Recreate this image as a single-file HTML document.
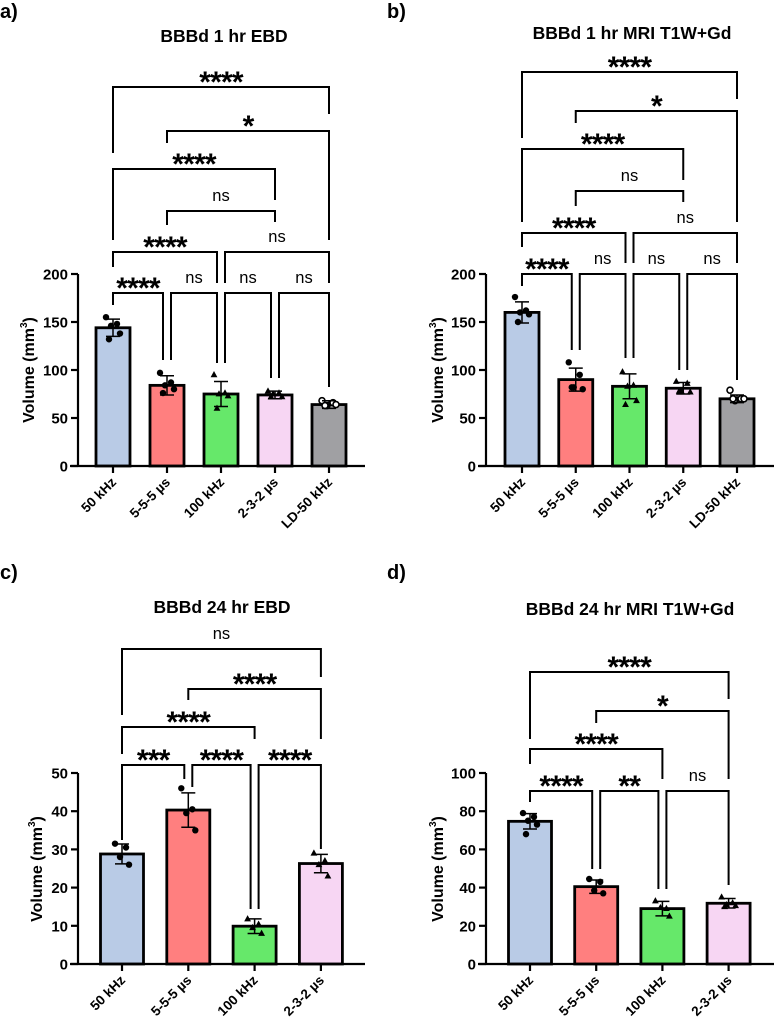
<!DOCTYPE html>
<html><head><meta charset="utf-8"><style>
html,body{margin:0;padding:0;background:#fff;}
svg{display:block;font-family:"Liberation Sans",Arial,sans-serif;}
</style></head><body>
<svg id="fig" width="774" height="1024" viewBox="0 0 774 1024" xmlns="http://www.w3.org/2000/svg"></svg>
<script>
// ---------- DATA ----------
const catsA = ["50 kHz","5-5-5 µs","100 kHz","2-3-2 µs","LD-50 kHz"];
const catsC = ["50 kHz","5-5-5 µs","100 kHz","2-3-2 µs"];
const colors = ["#b9cbe6","#ff7f7f","#66e86a","#f7d6f3","#a0a0a3"];
const markers = ["dot","dot","tri","tri","open"];

const meansA = [144, 84, 75, 74, 64];
const sdA = [9, 10, 13, 4, 4];
const ptsA = [[155,148,146,138,132],[97,87,84,80,76],[95,76,75,73,60],[78,76,75,72,72],[68,66,63,64,63]];
const compsA = [[0,1,"****"],[1,2,"ns"],[2,3,"ns"],[3,4,"ns"],[0,2,"****"],[2,4,"ns"],[1,3,"ns"],[0,3,"****"],[1,4,"*"],[0,4,"****"]];

const meansB = [160, 90, 83, 81, 70];
const sdB = [11, 12, 13, 6, 4];
const ptsB = [[176,162,160,158,150],[108,95,82,80,82],[98,84,83,68,64],[88,86,78,77,78],[79,70,68,70,70]];
const compsB = [[0,1,"****"],[1,2,"ns"],[2,3,"ns"],[3,4,"ns"],[0,2,"****"],[2,4,"ns"],[1,3,"ns"],[0,3,"****"],[1,4,"*"],[0,4,"****"]];

const meansC = [28.8, 40.3, 9.9, 26.3];
const sdC = [2.6, 4.5, 1.9, 2.4];
const ptsC = [[31.5,30.5,28,26],[46,40.5,39.5,35],[11.8,10.4,9.5,8],[29,27,26,23]];
const compsC = [[0,1,"***"],[1,2,"****"],[2,3,"****"],[0,2,"****"],[1,3,"****"],[0,3,"ns"]];

const meansD = [74.7, 40.5, 29, 31.8];
const sdD = [4, 3.5, 3.8, 2.5];
const ptsD = [[79,77,75,73,68],[44.5,43,38.5,37],[33,29,29.5,25],[35,32,31,30.5,30]];
const compsD = [[0,1,"****"],[1,2,"**"],[2,3,"ns"],[0,2,"****"],[1,3,"*"],[0,3,"****"]];

const ticksA = [0,50,100,150,200];
const ticksC = [0,10,20,30,40,50];
const ticksD = [0,20,40,60,80,100];

// ---------- LAYOUT ----------
const NS="http://www.w3.org/2000/svg";
const svg=document.getElementById("fig");
function el(tag,attrs,parent){const e=document.createElementNS(NS,tag);for(const k in attrs)e.setAttribute(k,attrs[k]);(parent||svg).appendChild(e);return e;}
const jit=[-7,4,-2,7,-4];

// bracket layout: [level, leftBottom, rightBottom] px per comparison
const layA=[[293,305,360],[293,360,363],[293,363,378],[293,378,387],[252,267,283],[252,283,283],[211,225,222],[169,240,200],[131,143,240],[87,153,114]];
const layB=[[274,286,350],[274,350,358],[274,358,370],[274,370,380],[233,247,263],[233,263,263],[191,206,202],[149,222,180],[111,123,222],[72,138,99]];
const layC=[[765,840,779],[765,787,909],[765,909,849],[727,754,739],[689,700,739],[649,715,677]];
const layD=[[791,802,869],[791,869,889],[791,889,885],[749,764,779],[711,723,779],[672,739,699]];

function panel(p){
  const g=el("g",{});
  
  
  const ys=v=>p.y0-(v-0)*(p.y0-p.yTop)/p.ymax;
  const xs=i=>p.x0+i*p.step;
  const lt=el("text",{x:p.letterX,y:p.letterY,"font-size":20,"font-weight":"bold"},g);lt.textContent=p.letter;
  
  
  const tt=el("text",{x:p.titleX,y:p.titleY,"font-size":17.5,"font-weight":"bold","text-anchor":"middle"},g);tt.textContent=p.title;
  
  
  p.means.forEach((m,i)=>{
    const r=el("rect",{x:xs(i)-p.bw/2,y:ys(m),width:p.bw,height:p.y0-ys(m),fill:colors[i],stroke:"#000","stroke-width":2.8},g);
    
    
  });
  p.pts.forEach((arr,i)=>{
    arr.forEach((v,k)=>{
      const cx=xs(i)+jit[k%5],cy=ys(v);let m;
      if(markers[i]==="dot")m=el("circle",{cx:cx,cy:cy,r:3.2,fill:"#000"},g);
      else if(markers[i]==="open")m=el("circle",{cx:cx,cy:cy,r:3,fill:"#fff",stroke:"#000","stroke-width":1.6},g);
      else m=el("path",{d:`M${cx},${cy-3.8}L${cx+3.4},${cy+2.4}L${cx-3.4},${cy+2.4}Z`,fill:"#000"},g);
      
      
    });
  });
  p.means.forEach((m,i)=>{
    const x=xs(i),t=ys(m+p.sd[i]),b=ys(m-p.sd[i]);
    const e=el("path",{d:`M${x},${t}V${b}M${x-7},${t}H${x+7}M${x-7},${b}H${x+7}`,stroke:"#000","stroke-width":1.5,fill:"none"},g);
    
    
  });
  const ax=el("path",{d:`M${p.axX},${p.yTop}V${p.y0}M${p.axX-8},${p.y0}H${p.axEnd}`,stroke:"#000","stroke-width":2.2,fill:"none"},g);
  
  
  p.ticks.forEach(t=>{
    const y=ys(t);
    const tk=el("path",{d:`M${p.axX-7},${y}H${p.axX}`,stroke:"#000","stroke-width":2.2},g);
    
    
    const tl=el("text",{x:p.axX-10,y:y+5.5,"font-size":15,"font-weight":"bold","text-anchor":"end"},g);tl.textContent=t;
    
    
  });
  p.cats.forEach((c,i)=>{
    const x=xs(i);
    const tk=el("path",{d:`M${x},${p.y0}V${p.y0+7}`,stroke:"#000","stroke-width":2.2},g);
    
    
    const tl=el("text",{x:x+4,y:p.y0+17,"font-size":13.5,"font-weight":"bold","text-anchor":"end",transform:`rotate(-45 ${x+4} ${p.y0+17})`},g);tl.textContent=c;
    
    
  });
  const yt=el("text",{x:0,y:0,"font-size":16,"font-weight":"bold","text-anchor":"middle",transform:`translate(${p.ytX},${p.ytY}) rotate(-90)`},g);
  yt.innerHTML='Volume (mm<tspan dy="-7" font-size="10">3</tspan><tspan dy="7">)</tspan>';
  
  
  p.comps.forEach((c,k)=>{
    const [i,j,lab]=c,[lv,lb,rb]=p.lay[k];
    const shared=(e)=>p.comps.some((d,m)=>m!==k&&p.lay[m][0]===lv&&(d[0]===e||d[1]===e));
    const xl=xs(i)+(shared(i)?4:0),xr=xs(j)-(shared(j)?4:0);
    const br=el("path",{d:`M${xl},${lb}V${lv}H${xr}V${rb}`,stroke:"#000","stroke-width":2,fill:"none"},g);
    
    
    const ns=lab==="ns";
    const tx=el("text",{x:(xl+xr)/2,y:ns?lv-10:lv+5,"font-size":ns?16.5:30,"font-weight":ns?"normal":"bold","text-anchor":"middle","letter-spacing":ns?0:-0.8},g);
    tx.textContent=lab;
    
    
  });
}
panel({name:"panel-a",letter:"a)",letterX:0,letterY:18,title:"BBBd 1 hr EBD",titleX:224,titleY:42,cats:catsA,means:meansA,sd:sdA,pts:ptsA,comps:compsA,lay:layA,ticks:ticksA,ymax:200,y0:466,yTop:274,x0:113,step:54,bw:34,axX:78,axEnd:365,ytX:34,ytY:370});
panel({name:"panel-b",letter:"b)",letterX:387,letterY:18,title:"BBBd 1 hr MRI T1W+Gd",titleX:632,titleY:39,cats:catsA,means:meansB,sd:sdB,pts:ptsB,comps:compsB,lay:layB,ticks:ticksA,ymax:200,y0:466,yTop:274,x0:522,step:53.75,bw:34,axX:486,axEnd:774,ytX:443,ytY:370});
panel({name:"panel-c",letter:"c)",letterX:0,letterY:579,title:"BBBd 24 hr EBD",titleX:222,titleY:613,cats:catsC,means:meansC,sd:sdC,pts:ptsC,comps:compsC,lay:layC,ticks:ticksC,ymax:50,y0:964,yTop:773,x0:122,step:66.3,bw:43,axX:78,axEnd:365,ytX:42,ytY:869});
panel({name:"panel-d",letter:"d)",letterX:387,letterY:579,title:"BBBd 24 hr MRI T1W+Gd",titleX:630,titleY:615,cats:catsC,means:meansD,sd:sdD,pts:ptsD,comps:compsD,lay:layD,ticks:ticksD,ymax:100,y0:964,yTop:773,x0:530,step:66.2,bw:43,axX:486,axEnd:774,ytX:443,ytY:869});
</script>
</body></html>
